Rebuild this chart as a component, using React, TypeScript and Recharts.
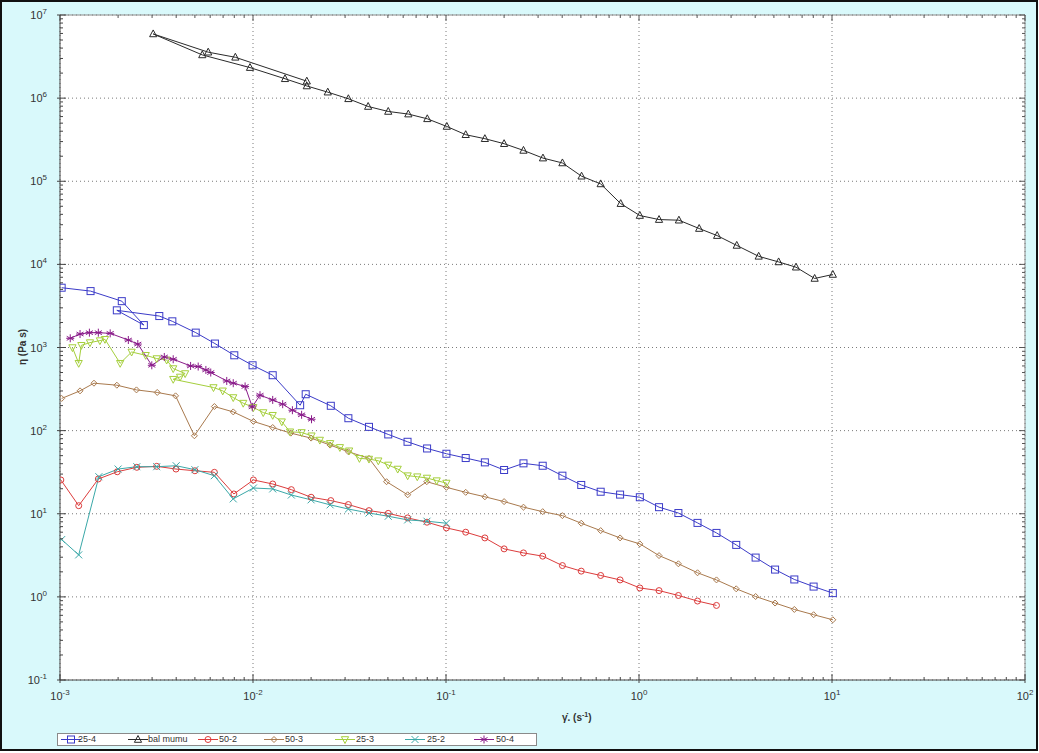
import React from 'react';
import { LineChart, Line, XAxis, YAxis, CartesianGrid, ReferenceLine } from 'recharts';

// Decade ticks of the log–log axes
const X_DECADES = [0.001, 0.01, 0.1, 1, 10, 100];
const Y_DECADES = [0.1, 1, 10, 100, 1e3, 1e4, 1e5, 1e6, 1e7];

// Shear rate (1/s) vs viscosity (Pa s) for each sample, in measurement order
const s25_4: [number, number][] = [
  [0.00102, 5240], [0.00144, 4770], [0.00209, 3610], [0.00272, 1860], [0.00197, 2800],
  [0.00327, 2390], [0.00382, 2065], [0.00505, 1510], [0.00635, 1115], [0.008, 806],
  [0.00995, 611], [0.01265, 464], [0.01755, 202], [0.01875, 274], [0.0253, 199],
  [0.0312, 141], [0.0399, 111], [0.0502, 90], [0.0632, 73.4], [0.0798, 61],
  [0.1005, 52.7], [0.1265, 46.8], [0.159, 41.5], [0.2, 33.6], [0.252, 40.4],
  [0.317, 37.8], [0.401, 28.7], [0.502, 22.2], [0.633, 18.4], [0.798, 17.0],
  [1.01, 15.8], [1.27, 12.0], [1.6, 10.2], [2.01, 7.76], [2.52, 5.88],
  [3.19, 4.22], [4.02, 2.97], [5.07, 2.13], [6.38, 1.62], [8.03, 1.33], [10.1, 1.11],
];

const sBalMumu: [number, number][] = [
  [0.019, 1.6e6], [0.0081, 3.1e6], [0.00586, 3.57e6], [0.00304, 5.92e6], [0.00546, 3.31e6],
  [0.00965, 2.33e6], [0.01465, 1.71e6], [0.019, 1.4e6], [0.0244, 1.18e6], [0.0312, 9.82e5],
  [0.0395, 7.93e5], [0.0502, 6.91e5], [0.0638, 6.43e5], [0.08, 5.64e5], [0.101, 4.56e5],
  [0.1265, 3.63e5], [0.159, 3.25e5], [0.2, 2.83e5], [0.252, 2.35e5], [0.318, 1.9e5],
  [0.401, 1.66e5], [0.504, 1.15e5], [0.633, 9.29e4], [0.804, 5.38e4], [1.01, 3.87e4],
  [1.27, 3.46e4], [1.61, 3.4e4], [2.05, 2.7e4], [2.54, 2.22e4], [3.21, 1.69e4],
  [4.17, 1.25e4], [5.29, 1.07e4], [6.51, 9.25e3], [8.13, 6.77e3], [10.1, 7.56e3],
];

const s50_2: [number, number][] = [
  [0.00101, 25.5], [0.00125, 12.5], [0.00158, 26.2], [0.00198, 32.0], [0.0025, 36.2],
  [0.00317, 37.2], [0.00399, 34.5], [0.005, 32.9], [0.00631, 31.5], [0.00796, 17.3],
  [0.01005, 25.5], [0.01265, 22.8], [0.0158, 19.5], [0.02, 15.8], [0.0253, 14.4],
  [0.0312, 12.9], [0.0399, 10.9], [0.0502, 10.1], [0.0633, 8.91], [0.0797, 7.91],
  [0.1005, 6.76], [0.1265, 6.0], [0.159, 5.12], [0.2, 3.78], [0.252, 3.38],
  [0.317, 3.09], [0.401, 2.38], [0.502, 2.04], [0.633, 1.81], [0.798, 1.6],
  [1.01, 1.28], [1.27, 1.19], [1.6, 1.04], [2.01, 0.891], [2.52, 0.789],
];

const s50_3: [number, number][] = [
  [0.00102, 244], [0.00127, 301], [0.0015, 372], [0.00197, 352], [0.00249, 309],
  [0.00319, 288], [0.00397, 262], [0.00497, 86.7], [0.00631, 195], [0.0079, 168],
  [0.01005, 129], [0.01265, 109], [0.0157, 93.3], [0.02, 81.3], [0.0251, 67],
  [0.0312, 55.7], [0.0399, 46.4], [0.0492, 24.3], [0.0633, 16.9], [0.0795, 24.3],
  [0.1005, 20.8], [0.1265, 18.1], [0.159, 16.0], [0.2, 14.0], [0.252, 12.0],
  [0.317, 10.6], [0.401, 9.49], [0.502, 7.69], [0.633, 6.27], [0.798, 5.12],
  [1.01, 4.34], [1.27, 3.14], [1.6, 2.5], [2.01, 1.95], [2.52, 1.6],
  [3.19, 1.25], [4.02, 1.01], [5.07, 0.843], [6.38, 0.706], [8.03, 0.61], [10.1, 0.53],
];

const s25_3: [number, number][] = [
  [0.00116, 998], [0.00125, 646], [0.00129, 1062], [0.00143, 1145], [0.00161, 1210],
  [0.00171, 1255], [0.00205, 646], [0.00235, 883], [0.00278, 806], [0.00317, 736],
  [0.00357, 708], [0.00386, 558], [0.00445, 486], [0.00419, 442], [0.00386, 415],
  [0.00624, 330], [0.00697, 301], [0.0079, 250], [0.0089, 214], [0.01005, 190],
  [0.0113, 165], [0.01265, 153], [0.0141, 128], [0.01556, 96.8], [0.01786, 95],
  [0.0201, 86.7], [0.0222, 77], [0.0251, 70.2], [0.0282, 62.8], [0.0315, 57.2],
  [0.0356, 46.4], [0.0399, 45.5], [0.0446, 43.4], [0.0502, 38.6], [0.0562, 34.5],
  [0.0633, 28.7], [0.071, 27.9], [0.0797, 26.9], [0.0895, 25.0], [0.1005, 23.4],
];

const s25_2: [number, number][] = [
  [0.00102, 4.89], [0.00125, 3.2], [0.00159, 27.9], [0.002, 34.5], [0.0025, 36.8],
  [0.00317, 36.8], [0.004, 37.8], [0.005, 33.9], [0.0063, 28.7], [0.0079, 15.1],
  [0.01005, 20.4], [0.01265, 19.9], [0.0158, 16.8], [0.02, 14.7], [0.0251, 12.8],
  [0.0312, 11.4], [0.0399, 10.2], [0.0502, 9.33], [0.0633, 8.43], [0.0797, 8.13],
  [0.1005, 7.69],
];

const s50_4: [number, number][] = [
  [0.00113, 1290], [0.00127, 1452], [0.00142, 1508], [0.00158, 1508], [0.00182, 1480],
  [0.00226, 1230], [0.00253, 1100], [0.00299, 611], [0.00347, 769], [0.00386, 722],
  [0.00475, 600], [0.0052, 590], [0.0057, 537], [0.00604, 500], [0.00731, 396],
  [0.0079, 372], [0.0091, 340], [0.00991, 193], [0.01087, 267], [0.01265, 234],
  [0.01425, 208], [0.016, 176], [0.01786, 155], [0.0201, 137],
];

type Shape = 'square' | 'triUp' | 'circle' | 'diamond' | 'triDown' | 'cross' | 'star';

const SERIES: { name: string; points: [number, number][]; color: string; shape: Shape }[] = [
  { name: '25-4', points: s25_4, color: '#3b3bc8', shape: 'square' },
  { name: 'bal mumu', points: sBalMumu, color: '#2a2a2a', shape: 'triUp' },
  { name: '50-2', points: s50_2, color: '#dc3c3c', shape: 'circle' },
  { name: '50-3', points: s50_3, color: '#a97a4e', shape: 'diamond' },
  { name: '25-3', points: s25_3, color: '#a5cf3c', shape: 'triDown' },
  { name: '25-2', points: s25_2, color: '#3aa8a8', shape: 'cross' },
  { name: '50-4', points: s50_4, color: '#8a1c8a', shape: 'star' },
];

// 1..9 × each decade: minor tick positions of a log axis
const minorPositions = (decades: number[]) => {
  const out: number[] = [];
  for (let i = 0; i < decades.length - 1; i++) {
    for (let k = 1; k < 10; k++) out.push(decades[i] * k);
  }
  out.push(decades[decades.length - 1]);
  return out;
};
const X_TICKS = minorPositions(X_DECADES);
const Y_TICKS = minorPositions(Y_DECADES);

const isDecade = (v: number) => {
  const l = Math.log10(v);
  return Math.abs(l - Math.round(l)) < 1e-9;
};

function Marker({ cx, cy, shape, color }: { cx: number; cy: number; shape: Shape; color: string }) {
  const p = { fill: 'none', stroke: color, strokeWidth: 1 };
  switch (shape) {
    case 'square':
      return <rect x={cx - 3.5} y={cy - 3.5} width={7} height={7} {...p} />;
    case 'triUp':
      return <polygon points={`${cx},${cy - 4} ${cx - 3.6},${cy + 2.8} ${cx + 3.6},${cy + 2.8}`} {...p} />;
    case 'circle':
      return <circle cx={cx} cy={cy} r={3} {...p} />;
    case 'diamond':
      return <polygon points={`${cx},${cy - 3} ${cx + 3},${cy} ${cx},${cy + 3} ${cx - 3},${cy}`} {...p} />;
    case 'triDown':
      return <polygon points={`${cx},${cy + 4} ${cx - 3.6},${cy - 2.8} ${cx + 3.6},${cy - 2.8}`} {...p} />;
    case 'cross':
      return (
        <g {...p}>
          <line x1={cx - 3.5} y1={cy - 3.5} x2={cx + 3.5} y2={cy + 3.5} />
          <line x1={cx - 3.5} y1={cy + 3.5} x2={cx + 3.5} y2={cy - 3.5} />
        </g>
      );
    case 'star':
    default:
      return (
        <g {...p}>
          <line x1={cx} y1={cy - 4} x2={cx} y2={cy + 4} />
          <line x1={cx - 3.5} y1={cy - 2} x2={cx + 3.5} y2={cy + 2} />
          <line x1={cx - 3.5} y1={cy + 2} x2={cx + 3.5} y2={cy - 2} />
          <line x1={cx - 4} y1={cy} x2={cx + 4} y2={cy} />
        </g>
      );
  }
}

const FONT = "'Liberation Sans', Arial, sans-serif";

// Chart geometry
const W = 1039;
const H = 753;
const MARGIN = { top: 15, right: 14, bottom: 33, left: 0 };
const X_AXIS_H = 40;
const Y_AXIS_W = 60;
const PLOT_W = W - MARGIN.left - MARGIN.right - Y_AXIS_W;
const PLOT_H = H - MARGIN.top - MARGIN.bottom - X_AXIS_H;

const exponentOf = (v: number) => Math.round(Math.log10(v));

// Bottom axis tick: inward tick mark on bottom and top frame, decade label below
const XTick = (props: any) => {
  const { x, y, payload } = props;
  const major = isDecade(payload.value);
  const len = major ? 6 : 3;
  const top = y - PLOT_H;
  return (
    <g>
      <line x1={x} y1={y - len} x2={x} y2={y + (major ? 3 : 0)} stroke="#444" />
      <line x1={x} y1={top} x2={x} y2={top + len} stroke="#555" />
      {major && (
        <text x={x} y={y + 20} textAnchor="middle" fontFamily={FONT} fontSize={11} fill="#333">
          10<tspan dy={-5} fontSize={8}>{exponentOf(payload.value)}</tspan>
        </text>
      )}
    </g>
  );
};

// Left axis tick: inward tick mark on left and right frame, decade label to the left
const YTick = (props: any) => {
  const { x, y, payload } = props;
  const major = isDecade(payload.value);
  const len = major ? 6 : 3;
  const right = x + PLOT_W;
  return (
    <g>
      <line x1={x - (major ? 3 : 0)} y1={y} x2={x + len} y2={y} stroke="#444" />
      <line x1={right - len} y1={y} x2={right} y2={y} stroke="#555" />
      {major && (
        <text x={x - 13} y={y + 4} textAnchor="end" fontFamily={FONT} fontSize={11} fill="#333">
          10<tspan dy={-5} fontSize={8}>{exponentOf(payload.value)}</tspan>
        </text>
      )}
    </g>
  );
};

function LegendBox() {
  const entries = [
    { line: 61, text: 78 },
    { line: 128, text: 148 },
    { line: 198, text: 219 },
    { line: 264, text: 285 },
    { line: 335, text: 356 },
    { line: 405, text: 427 },
    { line: 474, text: 496 },
  ];
  return (
    <div
      style={{
        position: 'absolute', left: 57, top: 733, width: 480, height: 13,
        border: '1px solid #8a8a8a', background: '#fff', boxSizing: 'border-box',
      }}
    >
      {SERIES.map((s, i) => (
        <React.Fragment key={s.name}>
          <svg
            width={20} height={11}
            style={{ position: 'absolute', left: entries[i].line - 58, top: 0 }}
          >
            <line x1={0} y1={5.5} x2={20} y2={5.5} stroke={s.color} strokeWidth={1} />
            <Marker cx={10} cy={5.5} shape={s.shape} color={s.color} />
          </svg>
          <span
            style={{
              position: 'absolute', left: entries[i].text - 58, top: 0, lineHeight: '11px',
              fontFamily: FONT, fontSize: 9, color: '#333', whiteSpace: 'nowrap',
            }}
          >
            {s.name}
          </span>
        </React.Fragment>
      ))}
    </div>
  );
}

export default function App() {
  return (
    <div style={{ position: 'relative', width: W, height: H, background: '#fff', overflow: 'hidden' }}>
      <style>{'body{margin:0}'}</style>
      <div
        style={{
          position: 'absolute', left: 0, top: 0, width: 1038, height: 751,
          background: '#d9f9fb', border: '2px solid #111', boxSizing: 'border-box',
        }}
      />
      <div style={{ position: 'absolute', left: 0, top: 0 }}>
        <LineChart width={W} height={H} margin={MARGIN}>
          <CartesianGrid
            xAxisId="x" yAxisId="y" stroke="#7a7a7a" strokeDasharray="1 3"
            fill="#fff" horizontalValues={Y_DECADES} verticalValues={X_DECADES}
          />
          <XAxis
            xAxisId="x" dataKey="x" type="number" scale="log" domain={[0.001, 100]}
            allowDataOverflow ticks={X_TICKS} interval={0} height={X_AXIS_H}
            axisLine={{ stroke: '#444' }} tickLine={false} tickSize={0} tickMargin={0}
            tick={<XTick />}
          />
          <YAxis
            yAxisId="y" type="number" scale="log" domain={[0.1, 1e7]} allowDataOverflow
            ticks={Y_TICKS} interval={0} width={Y_AXIS_W}
            axisLine={{ stroke: '#444' }} tickLine={false} tickSize={0} tickMargin={0}
            tick={<YTick />}
          />
          <ReferenceLine xAxisId="x" yAxisId="y" y={1e7} stroke="#8a8a8a" />
          <ReferenceLine xAxisId="x" yAxisId="y" x={100} stroke="#8a8a8a" />
          {SERIES.map((s) => (
            <Line
              key={s.name}
              name={s.name}
              xAxisId="x"
              yAxisId="y"
              data={s.points.map(([x, y]) => ({ x, y }))}
              dataKey="y"
              type="linear"
              stroke={s.color}
              strokeWidth={1}
              isAnimationActive={false}
              activeDot={false}
              dot={(p: any) => (
                <Marker key={`${s.name}-${p.index}`} cx={p.cx} cy={p.cy} shape={s.shape} color={s.color} />
              )}
            />
          ))}
        </LineChart>
      </div>
      <div
        style={{
          position: 'absolute', left: 22, top: 347, transform: 'translate(-50%, -50%) rotate(-90deg)',
          fontFamily: FONT, fontSize: 10, fontWeight: 'bold', color: '#333', whiteSpace: 'nowrap',
        }}
      >
        η (Pa s)
      </div>
      <div
        style={{
          position: 'absolute', left: 562, top: 711,
          fontFamily: FONT, fontSize: 10, fontWeight: 'bold', color: '#333', whiteSpace: 'nowrap',
        }}
      >
        γ̇. (s<sup style={{ fontSize: 7 }}>-1</sup>)
      </div>
      <LegendBox />
    </div>
  );
}
